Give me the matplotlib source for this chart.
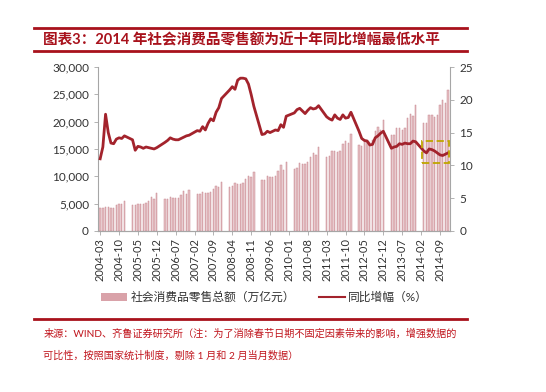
import numpy as np
import pandas as pd
import matplotlib
matplotlib.use("Agg")
import matplotlib.pyplot as plt
from matplotlib.lines import Line2D
from matplotlib.patches import Patch, Rectangle

plt.rcParams['font.family'] = ['Lato', 'Noto Sans CJK SC', 'DejaVu Sans']
plt.rcParams['axes.unicode_minus'] = False

# 数据：每年 3-12 月（剔除 1、2 月）
years = list(range(2004, 2015))
months_kept = [3, 4, 5, 6, 7, 8, 9, 10, 11, 12]

# 社会消费品零售总额（亿元）
sales = [
    [4134, 4135, 4303, 4285, 4174, 4276, 4729, 5003, 4985, 5563],
    [4799, 4663, 4899, 4935, 4935, 5041, 5495, 6176, 5910, 6850],
    [5804, 5774, 6176, 6058, 6012, 6077, 6554, 7235, 6822, 7499],
    [6686, 6673, 7158, 7026, 6998, 7117, 7668, 8263, 8104, 9015],
    [8123, 8142, 8703, 8642, 8629, 8768, 9447, 10083, 9791, 10729],
    [9317, 9343, 10028, 9942, 9937, 10116, 10913, 12031, 11083, 12610],
    [11322, 11510, 12455, 12330, 12252, 12570, 13537, 14285, 13911, 15329],
    [13588, 13649, 14697, 14565, 14408, 14705, 15865, 16546, 16128, 17740],
    [15650, 15603, 16715, 16584, 16315, 16659, 18227, 18934, 18477, 20334],
    [17641, 17600, 18886, 18827, 18513, 18886, 20653, 21492, 21012, 23060],
    [19801, 19701, 21250, 21242, 20805, 21134, 23030, 24003, 23475, 25801],
]

# 同比增幅（%）
growth = [
    [11.0, 12.8, 17.8, 15.0, 13.4, 13.3, 14.0, 14.2, 14.1, 14.5],
    [13.9, 12.3, 12.9, 12.8, 12.6, 12.8, 12.7, 12.6, 12.5, 12.7],
    [13.5, 13.8, 14.2, 14.0, 13.9, 13.9, 14.1, 14.3, 14.5, 14.6],
    [15.3, 15.2, 15.9, 15.4, 16.4, 17.1, 16.8, 18.1, 18.8, 20.2],
    [21.5, 22.0, 21.6, 23.0, 23.3, 23.3, 23.2, 22.4, 20.8, 19.0],
    [14.7, 14.8, 15.2, 15.0, 15.2, 15.4, 15.3, 16.2, 15.8, 17.5],
    [18.0, 18.5, 18.7, 18.3, 17.9, 18.4, 18.8, 18.6, 18.7, 19.1],
    [17.4, 17.1, 16.9, 17.7, 17.2, 17.0, 17.7, 17.2, 17.3, 18.1],
    [15.2, 14.1, 13.8, 13.7, 13.1, 13.2, 14.2, 14.5, 14.9, 15.2],
    [12.6, 12.8, 12.9, 13.3, 13.2, 13.4, 13.3, 13.3, 13.7, 13.6],
    [12.2, 11.9, 12.5, 12.4, 12.2, 11.9, 11.6, 11.5, 11.7, 11.9],
]

# 月份类别轴（含 1、2 月空位）
periods = pd.period_range('2004-03', '2014-12', freq='M')
month_labels = [p.strftime('%Y-%m') for p in periods]
pos = {label: i for i, label in enumerate(month_labels)}

x_vals, s_vals, g_vals = [], [], []
for y, s_row, g_row in zip(years, sales, growth):
    for m, s, g in zip(months_kept, s_row, g_row):
        x_vals.append(pos[f'{y}-{m:02d}'])
        s_vals.append(s)
        g_vals.append(g)

tick_step = 7
highlight_start, highlight_end = '2014-03', '2014-12'
highlight_low, highlight_high = 10.4, 13.7

dark_red = '#a8121c'
bar_color = '#e6bfc3'
line_color = '#a3232c'
axis_gray = '#a6a6a6'

fig = plt.figure(figsize=(5.46, 3.92), dpi=100)
ax = fig.add_axes([0.1795, 0.411, 0.645, 0.418])

ax.bar(x_vals, s_vals, width=0.5, color=bar_color, edgecolor='#c98a92', linewidth=0.35)
ax.set_ylim(0, 30000)
ax.set_yticks(np.arange(0, 30001, 5000))
ax.set_yticklabels([f'{v:,}' for v in range(0, 30001, 5000)])
ax.set_xlim(-0.8, len(month_labels) - 0.2)
ticks = list(range(0, len(month_labels), tick_step))
ax.set_xticks(ticks)
ax.set_xticklabels([month_labels[i] for i in ticks], rotation=90)

ax2 = ax.twinx()
ax2.plot(x_vals, g_vals, color=line_color, lw=2.0, zorder=3)
ax2.set_ylim(0, 25)
ax2.set_yticks(np.arange(0, 26, 5))

x0 = pos[highlight_start] - 0.8
x1 = pos[highlight_end] + 0.4
ax2.add_patch(Rectangle((x0, highlight_low), x1 - x0, highlight_high - highlight_low,
                        fill=False, edgecolor='#bfa600', linestyle=(0, (4, 2)),
                        lw=1.3, zorder=4))

for a in (ax, ax2):
    a.spines['top'].set_visible(False)
    for sp in ('left', 'right', 'bottom'):
        a.spines[sp].set_color(axis_gray)
        a.spines[sp].set_linewidth(0.8)
    a.tick_params(colors='#333333', labelsize=8.5, length=3, width=0.6)
    a.tick_params(axis='both', color=axis_gray)
ax.tick_params(axis='x', labelsize=8, length=3, pad=2)
ax2.spines['left'].set_visible(False)
ax.spines['right'].set_visible(False)

# 图例
handles = [Patch(facecolor='#d9a2a9', edgecolor='none'),
           Line2D([0], [0], color=line_color, lw=1.5)]
fig.legend(handles, ['社会消费品零售总额（万亿元）', '同比增幅（%）'],
           loc='center', bbox_to_anchor=(0.485, 0.242), ncol=2, frameon=False,
           fontsize=8.5, handlelength=2.2, handleheight=0.7, columnspacing=2.0,
           handletextpad=0.3, labelcolor='#333333')

# 标题与分隔线
for yy in (0.9286, 0.870, 0.186):
    fig.add_artist(Line2D([0.062, 0.855], [yy, yy], color=dark_red, lw=2.0))
fig.text(0.079, 0.898, '图表3：2014 年社会消费品零售额为近十年同比增幅最低水平',
         color=dark_red, fontsize=10.5, fontweight='bold', va='center', ha='left')

fig.text(0.079, 0.148, '来源：WIND、齐鲁证券研究所（注：为了消除春节日期不固定因素带来的影响，增强数据的',
         color='#c0141c', fontsize=7.3, va='center', ha='left')
fig.text(0.079, 0.094, '可比性，按照国家统计制度，剔除 1 月和 2 月当月数据）',
         color='#c0141c', fontsize=7.3, va='center', ha='left')

fig.savefig('out.png', dpi=100)
